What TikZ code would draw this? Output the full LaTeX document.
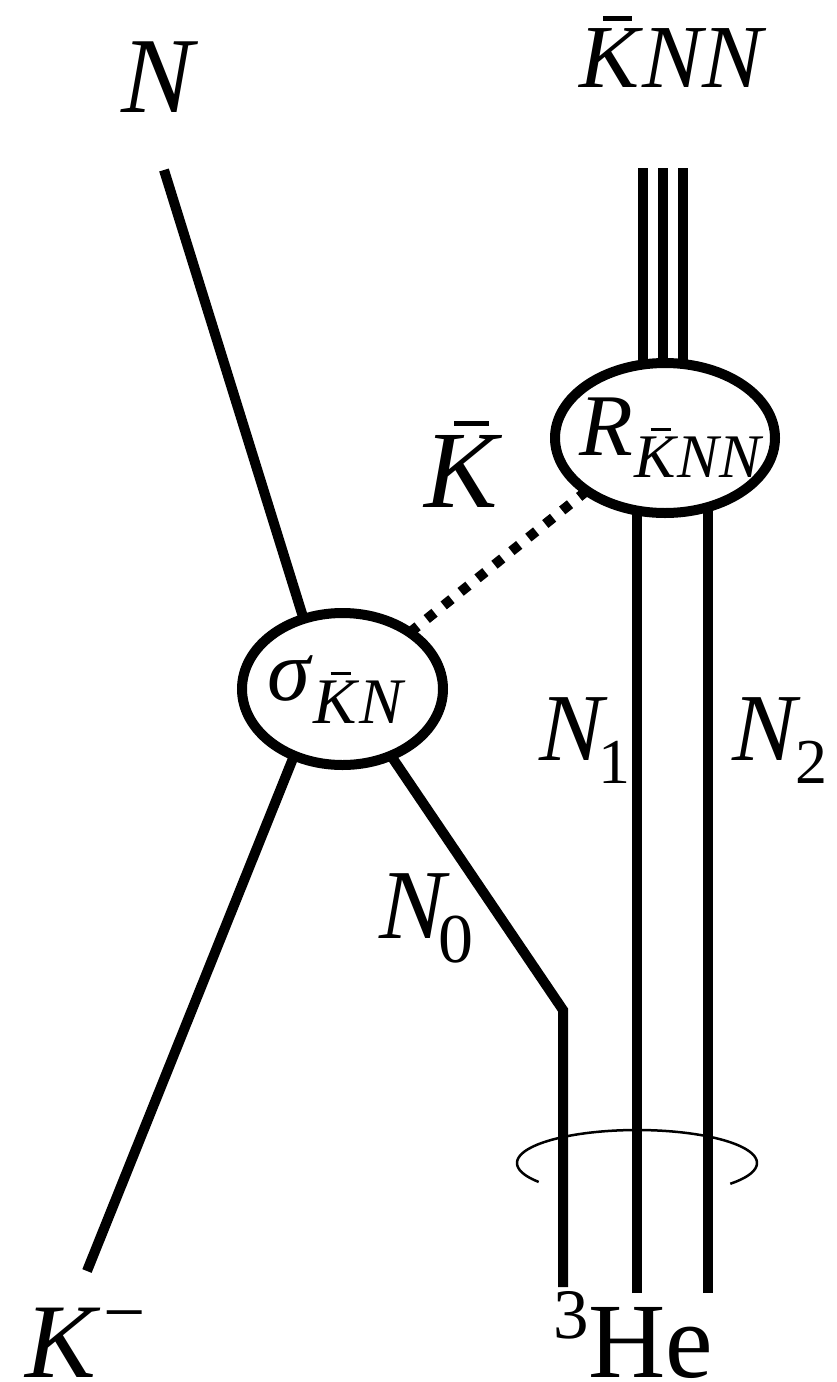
\documentclass[tikz,border=0pt]{standalone}
\usepackage{fontspec}
\setmainfont{Liberation Serif}
\usetikzlibrary{shapes.geometric,backgrounds}
\newcommand{\Kbar}{\makebox[0pt][l]{\hspace{0.27em}\rule[0.735em]{0.32em}{0.05em}}\textit{K}}
\newcommand{\fs}[1]{\fontsize{#1}{#1}\selectfont}
\begin{document}
\begin{tikzpicture}[x=1pt,y=-1pt,
  pline/.style={line width=10pt},
  vertex/.style={ellipse, draw, line width=10pt, fill=white, inner sep=0pt, outer sep=0pt},
  kaon/.style={line width=10pt, dash pattern=on 10pt off 11.7pt},
  ring/.style={line width=2.5pt},
  lbl/.style={inner sep=0pt, outer sep=0pt, anchor=base west}]
\useasboundingbox (0,0) rectangle (837,1382);
% vertices
\node[vertex, minimum width=201pt, minimum height=152pt] (sig) at (342.5,689) {};
\node[vertex, minimum width=220pt, minimum height=150pt] (R) at (665,438) {};
% free ends
\coordinate (ntop) at (164,170);
\coordinate (kbot) at (87,1271);
\coordinate (kink) at (563,1010);
\coordinate (n0bot) at (563,1287);
\coordinate (n1bot) at (637,1293);
\coordinate (n2bot) at (708,1293);
\coordinate (t1) at (643,168);
\coordinate (t2) at (663,168);
\coordinate (t3) at (683,168);
\begin{pgfonlayer}{background}
\draw[ring] plot[domain=145:399,samples=90] ({637+120*cos(\x)},{1163+33*sin(\x)});
\draw[pline] (ntop) -- (sig.119);
\draw[pline] (kbot) -- (sig.234);
\draw[pline] (sig.306) -- (kink) -- (n0bot);
\draw[pline] (n1bot) -- (n1bot |- R.center);
\draw[pline] (n2bot) -- (n2bot |- R.center);
\draw[pline] (t1) -- (t1 |- R.center);
\draw[pline] (t2) -- (t2 |- R.center);
\draw[pline] (t3) -- (t3 |- R.center);
\end{pgfonlayer}
\draw[kaon] (sig.40) -- (R.214);
% labels
\node[lbl, font=\fs{108}] (lN) at (121,112) {\textit{N}};
\node[lbl, font=\fs{90}] (lKNN) at (579,87) {\Kbar\textit{NN}};
\node[lbl, font=\fs{110}] (lK) at (424,507) {\Kbar};
\node[lbl, font=\fs{88}] (lR) at (579,455) {\textit{R}};
\node[lbl, font=\fs{62}] (lRs) at (634,477) {\Kbar\textit{NN}};
\node[lbl, font=\fs{87}] (ls) at (267,700) {\textit{σ}};
\node[lbl, font=\fs{65}] (lss) at (313,723) {\Kbar\textit{N}};
\node[lbl, font=\fs{96}] (lN1) at (539,760) {\textit{N}};
\node[lbl, font=\fs{64}] (lN1s) at (598,783) {1};
\node[lbl, font=\fs{96}] (lN2) at (732,760) {\textit{N}};
\node[lbl, font=\fs{64}] (lN2s) at (795,783) {2};
\node[lbl, font=\fs{99}] (lN0) at (379,938) {\textit{N}};
\node[lbl, font=\fs{70}] (lN0s) at (438,962) {0};
\node[lbl, font=\fs{106}] (lKm) at (25,1377) {\textit{K}};
\node[lbl, font=\fs{75}] (lKms) at (103,1337) {−};
\node[lbl, font=\fs{71}] (l3) at (553,1338) {3};
\node[lbl, font=\fs{107}] (lHe) at (588,1377) {He};
\end{tikzpicture}
\end{document}
